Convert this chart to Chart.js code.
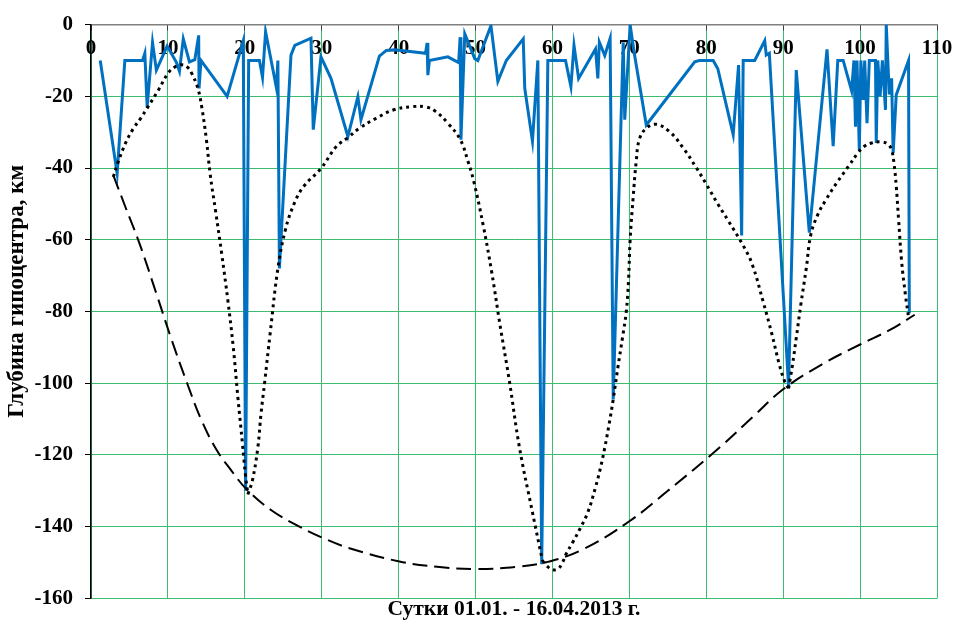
<!DOCTYPE html>
<html>
<head>
<meta charset="utf-8">
<script src="https://cdn.jsdelivr.net/npm/chart.js@4"></script>
<style>
    body { margin: 0; background: #fff; }
    #wrap { width: 955px; height: 623px; }
</style>
</head>
<body>
<div id="wrap"><canvas id="depthChart"></canvas></div>
<script>
// hypocentre depth of each event (day of 2013, km)
const depthDay = [1.2, 3.4, 4.4, 6.7, 7.0, 7.3, 8.0, 8.5, 9.9, 11.1, 11.5, 12.0, 12.8, 13.5, 14.0, 14.05, 14.3, 17.7, 19.8,
    20.1, 20.5, 21.9, 22.3, 22.7, 24.1, 24.3, 24.5, 26.0, 26.5, 28.6, 28.9, 29.9, 31.2, 33.4, 34.7, 35.1, 37.5, 38.4, 39.5,
    43.5, 43.7, 43.8, 44.0, 46.4, 47.8, 48.0, 48.1, 48.6, 49.9, 50.3, 52.0, 52.9, 54.0, 56.2, 56.4, 57.4, 58.1, 58.6, 59.4,
    61.7, 62.4, 62.8, 63.4, 65.6, 65.9, 66.1, 66.8, 67.5, 67.9, 69.2, 69.4, 70.1, 70.6, 72.2, 78.5, 79.1, 80.9, 81.5, 83.5,
    84.2, 84.6, 84.8, 86.3, 87.6, 87.8, 88.2, 90.7, 91.7, 93.4, 95.7, 96.5, 97.1, 97.8, 98.9, 99.2, 99.4, 99.6, 99.9, 100.1,
    100.4, 100.6, 100.9, 101.2, 102.0, 102.1, 102.3, 102.6, 102.9, 103.3, 103.4, 103.8, 104.1, 104.3, 104.7, 106.3, 106.4];
const depthKm = [-10, -41.5, -10, -10, -8, -23, -5, -12.7, -6, -10.5, -13, -4, -10.4, -9.8, -3, -17.8, -10, -20, -4.5,
    -130, -10, -10, -14.7, -2, -17.5, -10, -68, -8.5, -5.8, -3.8, -29.3, -9, -15, -31.2, -20.1, -26.5, -8.8, -7.2, -7,
    -8, -5.1, -14.1, -10, -9, -10.6, -3.5, -32.1, -2.6, -9.5, -10, -0.3, -15.8, -10, -4, -17.8, -32.5, -10, -150.5, -10,
    -10, -17.3, -5.8, -15, -6.8, -15, -4.9, -8.6, -3.8, -104.5, -5, -26.5, 0, -7.5, -28, -10.4, -10, -10, -12.3, -30.7,
    -11.3, -58.8, -10, -10, -4.5, -8.5, -8, -100.8, -12.7, -58, -6.9, -33.9, -10, -10, -18.5, -10, -28.5, -10, -35, -10,
    -21, -10, -27.5, -10, -10, -33, -10, -20, -10, -23.8, 0, -19.5, -15, -35.8, -19.6, -10, -80.5];

// lower envelope through the deepest events (dotted), null splits the arcs
const dottedDay = [2.9, 3.5, 4.5, 5.5, 6.5, 7.3, 8.75, 10.1, 11.0, 11.8, 12.5, 13.1, 13.9, 14.4, 15.0, 15.5, 16.2, 17.0, 17.8,
    18.5, 19.1, 19.7, 20.1, 20.4, null,
    20.4, 21.0, 21.7, 22.1, 22.6, 23.3, 24.3, 25.3, 26.5, 27.7, 29.9, 31.9, 33.4, 34.9, 37.1, 39.3, 41.7, 43.6, 44.8, 46.4,
    48.0, 49.0, 49.8, 51.0, 52.1, 53.2, 54.4, 55.7, 57.4, 58.7, null,
    58.7, 59.3, 60.0, 60.7, 61.3, 61.8, 62.6, 63.6, 64.6, 65.6, 66.2, 66.8, 67.4, 67.9, 68.5, 69.1, 69.6, 69.9, 70.1, 70.5,
    70.9, 71.3, 72.2, 73.5, 75.2, 77.0, 78.7, 80.0, 81.5, 82.8, 84.8, 86.0, 87.4, 88.5, 89.5, 90.2, 90.7, null,
    90.7, 91.2, 91.7, 92.3, 93.0, 93.6, 94.5, 95.6, 97.0, 98.5, 99.7, 100.5, 101.5, 102.7, 103.6, 104.1, 104.4, 104.7,
    105.0, 105.4, 105.9, 106.3];
const dottedKm = [-42.5, -38.5, -33, -29, -26, -23.3, -18.3, -13.3, -11.7, -11.2, -11.8, -13.6, -17.8, -23, -32, -41.8, -52,
    -64, -77, -90, -104, -117, -126, -131, null,
    -131, -127, -117.8, -108.6, -99.4, -86, -68, -57, -49.5, -45, -40.1, -34, -31.5, -28.9, -26.1, -23.8, -22.9, -23, -24.2,
    -27.5, -32, -38, -44, -56, -69, -84, -99.4, -117.8, -136, -149.5, null,
    -149.5, -151, -152, -151.8, -150, -147.5, -144.5, -140.5, -136, -129, -124, -118, -111, -104.5, -95.7, -87.4,
    -80, -71, -60, -48, -38, -32, -28.9, -27.8, -29.8, -34.4, -39.9, -44.5, -50, -54.5, -61.6, -67, -77.3, -86, -94.8,
    -99.5, -101.5, null,
    -101.5, -95, -87.4, -78, -68, -58.5, -53, -48.7, -44, -39.5, -35.8, -34, -33, -32.7, -33.3, -35, -38.5, -45, -54.2,
    -66, -75.5, -81.5];

// overall trend of maximum depth (dashed)
const dashedDay = [2.9, 4.5, 6.3, 8.5, 10.5, 12.5, 14.3, 16.3, 18.3, 20.2, 23.5, 27.1, 30.0, 33.6, 40.1, 45.0, 50.1, 55.3,
    59.2, 63.9, 70.0, 75.0, 81.8, 86.0, 90.0, 95.0, 100.0, 104.0, 107.1];
const dashedKm = [-42, -51, -61, -75, -88, -100, -110, -118.5, -124.5, -129.5, -135.5, -140, -143, -146, -149.7, -151.2,
    -151.8, -151.2, -149.9, -146.4, -138.5, -130, -117.8, -109.5, -101.7, -94.8, -89.2, -85, -80.9];

const dayTicks = [0, 10, 20, 30, 40, 50, 60, 70, 80, 90, 100, 110];
const depthTicks = [0, -20, -40, -60, -80, -100, -120, -140, -160];

const xTitle = "Сутки 01.01. - 16.04.2013 г.";
const yTitle = "Глубина гипоцентра, км";

function toPoints(xs, ys) {
    return xs.map((x, i) => ({ x: x, y: ys[i] }));
}

const serif = "'Liberation Serif', 'Times New Roman', serif";
const tickFont = { family: serif, size: 21, weight: "bold" };
const gridGreen = "#3dbb6e";

new Chart(document.getElementById("depthChart"), {
    type: "line",
    data: {
        datasets: [
            {
                label: "envelope",
                data: toPoints(dottedDay, dottedKm),
                borderColor: "#000",
                borderWidth: 3,
                borderDash: [3, 4],
                tension: 0.4,
                pointRadius: 0,
                order: 0
            },
            {
                label: "trend",
                data: toPoints(dashedDay, dashedKm),
                borderColor: "#000",
                borderWidth: 2,
                borderDash: [15, 7],
                tension: 0.4,
                pointRadius: 0,
                order: 1
            },
            {
                label: "depth",
                data: toPoints(depthDay, depthKm),
                borderColor: "#0070c0",
                borderWidth: 3,
                tension: 0,
                pointRadius: 0,
                order: 2
            }
        ]
    },
    options: {
        responsive: true,
        maintainAspectRatio: false,
        animation: false,
        layout: { padding: { top: 21, right: 18, left: 0, bottom: 0 } },
        plugins: { legend: { display: false }, tooltip: { enabled: false } },
        scales: {
            // day axis crosses at depth 0, its labels sit just under the top edge
            x: {
                type: "linear",
                position: "top",
                min: 0,
                max: 110,
                afterFit: scale => {
                    scale.height = 0;
                    scale.paddingLeft = 0;
                    scale.paddingRight = 0;
                },
                afterBuildTicks: scale => { scale.ticks = dayTicks.map(v => ({ value: v })); },
                ticks: { font: tickFont, color: "#000", padding: 11, mirror: true, maxRotation: 0, autoSkip: false },
                grid: { color: gridGreen, lineWidth: 1, tickLength: -6, tickColor: "#404040", tickWidth: 1 },
                border: { display: true, color: "#808080", width: 1.5 }
            },
            x2: {
                type: "linear",
                position: "bottom",
                min: 0,
                max: 110,
                afterFit: scale => { scale.height = 24; },
                ticks: { display: false },
                grid: { display: false },
                border: { display: false },
                title: { display: true, text: xTitle, font: { family: serif, size: 21.5, weight: "bold" }, color: "#000", padding: 0 }
            },
            y: {
                min: -160,
                max: 0,
                afterFit: scale => { scale.width = 91; },
                afterBuildTicks: scale => { scale.ticks = depthTicks.map(v => ({ value: v })); },
                ticks: { font: tickFont, color: "#000", padding: 12 },
                grid: { color: gridGreen, lineWidth: 1, tickLength: 6, tickColor: "#000", tickWidth: 1 },
                border: { display: true, color: "#000", width: 1.5 },
                // leading spaces lift the rotated title a little above the middle of the axis
                title: { display: true, text: " ".repeat(7) + yTitle, font: { family: serif, size: 23, weight: "bold" },
                    color: "#000", padding: { top: 3, bottom: 0 } }
            }
        }
    }
});
</script>
</body>
</html>
